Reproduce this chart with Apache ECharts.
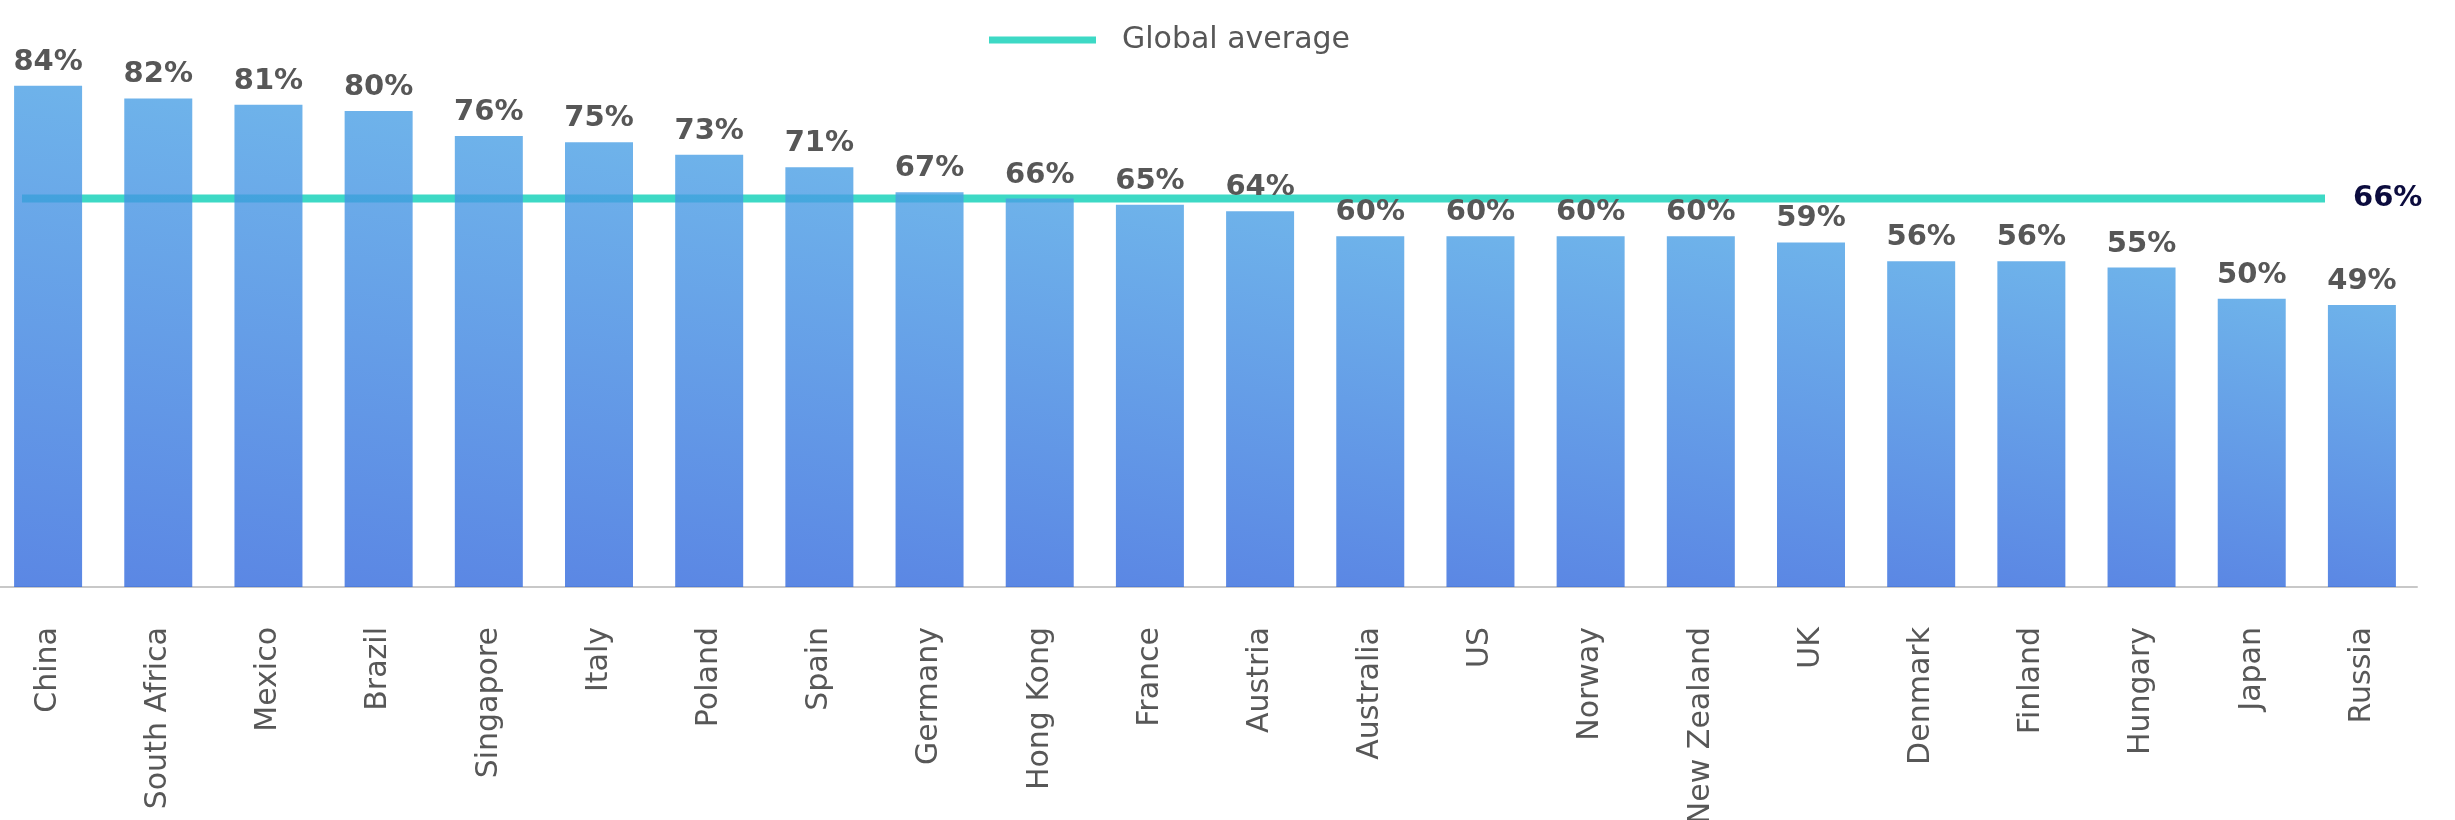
<!DOCTYPE html>
<html>
<head>
<meta charset="utf-8">
<style>
  html, body { margin: 0; padding: 0; background: #ffffff; }
  #chart { width: 2455px; height: 820px; }
</style>
<script src="https://cdn.jsdelivr.net/npm/echarts@6/dist/echarts.min.js"></script>
</head>
<body>
<div id="chart"></div>
<script>
// Share of respondents by country, with the global average
const countries = ['China', 'South Africa', 'Mexico', 'Brazil', 'Singapore', 'Italy', 'Poland', 'Spain',
  'Germany', 'Hong Kong', 'France', 'Austria', 'Australia', 'US', 'Norway', 'New Zealand', 'UK',
  'Denmark', 'Finland', 'Hungary', 'Japan', 'Russia'];
const shares = [84, 82, 81, 80, 76, 75, 73, 71, 67, 66, 65, 64, 60, 60, 60, 60, 59, 56, 56, 55, 50, 49];
const globalAverage = 66;
const averageName = 'Global average';

const Y_MIN = 4, Y_MAX = 91;
const GRID_TOP = 42, GRID_BOTTOM = 233;

const labelGrey = '#575757';
const teal = '#3dd9c5';

const chart = echarts.init(document.getElementById('chart'), null, { renderer: 'canvas' });

chart.setOption({
  animation: false,
  backgroundColor: '#ffffff',
  legend: {
    data: [{ name: averageName, icon: 'rect' }],
    left: 989,
    top: 25,
    padding: 0,
    itemWidth: 107,
    itemHeight: 7,
    textStyle: {
      fontFamily: 'DejaVu Sans',
      fontSize: 30,
      color: labelGrey,
      padding: [0, 0, 0, 21]
    }
  },
  grid: [
    { left: -7, right: 38, top: GRID_TOP, bottom: GRID_BOTTOM, outerBoundsMode: 'none', containLabel: false },
    { left: 22, right: 130, top: GRID_TOP, bottom: GRID_BOTTOM, outerBoundsMode: 'none', containLabel: false }
  ],
  xAxis: [
    {
      type: 'category',
      gridIndex: 0,
      data: countries,
      axisTick: { show: false },
      axisLine: { show: true, lineStyle: { color: '#c8c8c8', width: 2 } },
      axisLabel: {
        rotate: 90,
        margin: 40,
        interval: 0,
        fontFamily: 'DejaVu Sans',
        fontSize: 30,
        color: labelGrey
      }
    },
    {
      type: 'category',
      gridIndex: 1,
      data: ['', ''],
      boundaryGap: false,
      show: false
    }
  ],
  yAxis: [
    { type: 'value', gridIndex: 0, min: Y_MIN, max: Y_MAX, show: false, splitLine: { show: false } },
    { type: 'value', gridIndex: 1, min: Y_MIN, max: Y_MAX, show: false, splitLine: { show: false } }
  ],
  series: [
    {
      name: averageName,
      type: 'line',
      xAxisIndex: 1,
      yAxisIndex: 1,
      z: 1,
      clip: false,
      symbol: 'none',
      color: teal,
      lineStyle: { color: teal, width: 8 },
      endLabel: {
        show: true,
        distance: 28,
        formatter: p => p.value + '%',
        fontFamily: 'DejaVu Sans',
        fontWeight: 'bold',
        fontSize: 29,
        color: '#0c0c3e'
      },
      data: [globalAverage, globalAverage]
    },
    {
      name: 'Share',
      type: 'bar',
      xAxisIndex: 0,
      yAxisIndex: 0,
      z: 3,
      barWidth: 68,
      data: shares,
      itemStyle: {
        color: new echarts.graphic.LinearGradient(0, 1, 1, 0, [
          { offset: 0, color: 'rgba(50,105,221,0.8)' },
          { offset: 1, color: 'rgba(74,160,229,0.8)' }
        ])
      },
      label: {
        show: true,
        position: 'top',
        distance: 9,
        formatter: p => p.value + '%',
        fontFamily: 'DejaVu Sans',
        fontWeight: 'bold',
        fontSize: 29,
        color: labelGrey
      }
    }
  ]
});
</script>
</body>
</html>
